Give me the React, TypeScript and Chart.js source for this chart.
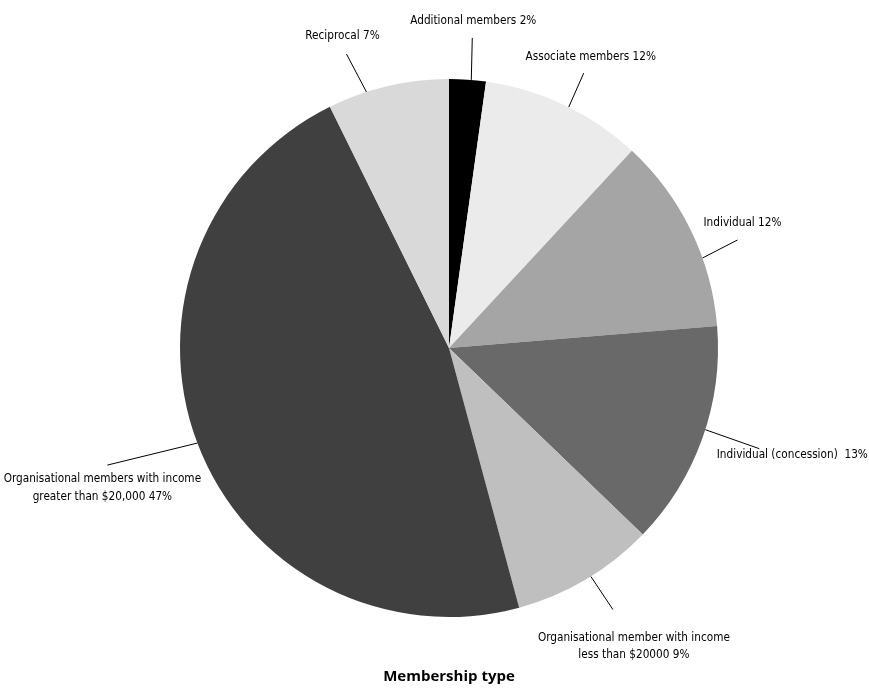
import React, { useEffect, useRef } from "react";
import { Chart, registerables } from "chart.js";

Chart.register(...registerables);

const categories = [
  "Additional members",
  "Associate members",
  "Individual",
  "Individual (concession)",
  "Organisational member with income less than $20000",
  "Organisational members with income greater than $20,000",
  "Reciprocal",
];
const shares = [2.2, 9.7, 11.8, 13.5, 8.6, 46.9, 7.3];
const labelTexts = [
  ["Additional members 2%"],
  ["Associate members 12%"],
  ["Individual 12%"],
  ["Individual (concession)  13%"],
  ["Organisational member with income", "less than $20000 9%"],
  ["Organisational members with income", "greater than $20,000 47%"],
  ["Reciprocal 7%"],
];
const colors = ["#000000", "#ebebeb", "#a5a5a5", "#696969", "#bfbfbf", "#404040", "#d9d9d9"];
const chartTitle = "Membership type";

// label layout: t = fraction along slice for leader start, (lx,ly) leader vector, (tx,ty) text offset from leader end
const labelLayout = [
  { t: 0.6, lx: 1, ly: -42, tx: 1, ty: -17 },
  { t: 0.53, lx: 15, ly: -34, tx: 7, ty: -16 },
  { t: 0.65, lx: 35, ly: -18, tx: 5, ty: -17 },
  { t: 0.46, lx: 54, ly: 19, tx: 33, ty: 6 },
  { t: 0.46, lx: 22, ly: 33, tx: 21, ty: 28 },
  { t: 0.5, lx: -90, ly: 22, tx: -5, ty: 14 },
  { t: 0.32, lx: -20, ly: -38, tx: -4, ty: -18 },
];

const LABEL_FONT = "13px 'Liberation Sans Narrow', 'DejaVu Sans Condensed', sans-serif";
const LABEL_SQUEEZE = 0.9;
const LINE_H = 17.5;

const labelPlugin = {
  id: "pieLabels",
  afterDraw(chart: any) {
    const ctx = chart.ctx;
    const meta = chart.getDatasetMeta(0);
    ctx.save();
    meta.data.forEach((arc: any, i: number) => {
      const p = arc.getProps(["x", "y", "startAngle", "endAngle", "outerRadius"], true);
      const L = labelLayout[i];
      const a = p.startAngle + (p.endAngle - p.startAngle) * L.t;
      const sx = p.x + Math.cos(a) * p.outerRadius;
      const sy = p.y + Math.sin(a) * p.outerRadius;
      const ex = sx + L.lx;
      const ey = sy + L.ly;
      ctx.strokeStyle = "#000";
      ctx.lineWidth = 1;
      ctx.beginPath();
      ctx.moveTo(sx, sy);
      ctx.lineTo(ex, ey);
      ctx.stroke();
      ctx.fillStyle = "#000";
      ctx.font = LABEL_FONT;
      ctx.textAlign = "center";
      ctx.textBaseline = "middle";
      labelTexts[i].forEach((line, k) => {
        ctx.save();
        ctx.translate(ex + L.tx, ey + L.ty + k * LINE_H);
        ctx.scale(LABEL_SQUEEZE, 1);
        ctx.fillText(line, 0, 0);
        ctx.restore();
      });
    });
    ctx.font = "bold 15px 'Open Sans', sans-serif";
    ctx.textAlign = "center";
    ctx.textBaseline = "middle";
    ctx.fillStyle = "#000";
    const ca = chart.chartArea;
    ctx.fillText(chartTitle, (ca.left + ca.right) / 2, 677);
    ctx.restore();
  },
};

export default function App() {
  const ref = useRef<HTMLCanvasElement>(null);
  useEffect(() => {
    if (!ref.current) return;
    const chart = new Chart(ref.current, {
      type: "pie",
      data: {
        labels: categories,
        datasets: [
          {
            data: shares,
            backgroundColor: colors,
            borderWidth: 0,
          },
        ],
      },
      options: {
        animation: false,
        responsive: false,
        layout: { padding: { left: 180, right: 151, top: 79, bottom: 74 } },
        plugins: {
          legend: { display: false },
          tooltip: { enabled: false },
          title: { display: false },
        },
      },
      plugins: [labelPlugin],
    });
    return () => chart.destroy();
  }, []);
  return (
    <div style={{ position: "fixed", left: 0, top: 0, width: 869, height: 691, background: "#fff" }}>
      <canvas ref={ref} width={869} height={691} style={{ width: 869, height: 691 }} />
    </div>
  );
}
